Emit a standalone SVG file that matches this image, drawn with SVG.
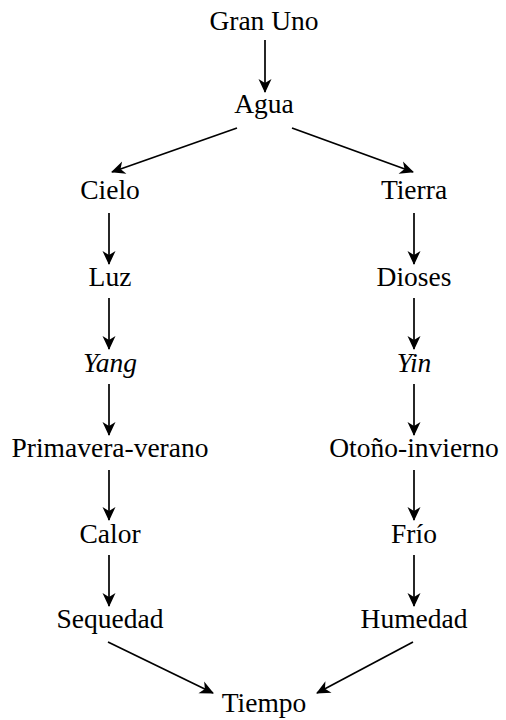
<svg xmlns="http://www.w3.org/2000/svg" width="506" height="720" viewBox="0 0 506 720">
<style>
text{font-family:"Liberation Serif","DejaVu Serif",serif;font-size:27.5px;fill:#000;text-anchor:middle}
.it{font-style:italic}
.e{stroke:#000;stroke-width:1.7;fill:none;marker-end:url(#ah)}
</style>
<defs>
<marker id="ah" markerUnits="userSpaceOnUse" markerWidth="18" markerHeight="18" viewBox="-15 -9 17 18" refX="0" refY="0" orient="auto">
<path d="M1,0 L-13,-6.5 L-9,0 L-13,6.5 Z" fill="#000"/>
</marker>
</defs>
<rect width="506" height="720" fill="#fff"/>
<g id="connectors">
<line class="e" x1="265" y1="40" x2="265" y2="92"/>
<line class="e" x1="237" y1="128" x2="112" y2="172"/>
<line class="e" x1="292" y1="128" x2="413" y2="172"/>
<line class="e" x1="109" y1="213" x2="109" y2="264"/>
<line class="e" x1="109" y1="298" x2="109" y2="349"/>
<line class="e" x1="109" y1="384" x2="109" y2="435"/>
<line class="e" x1="109" y1="470" x2="109" y2="520"/>
<line class="e" x1="109" y1="555" x2="109" y2="606"/>
<line class="e" x1="414" y1="213" x2="414" y2="264"/>
<line class="e" x1="414" y1="298" x2="414" y2="349"/>
<line class="e" x1="414" y1="384" x2="414" y2="435"/>
<line class="e" x1="414" y1="470" x2="414" y2="520"/>
<line class="e" x1="414" y1="555" x2="414" y2="606"/>
<line class="e" x1="108" y1="642" x2="213" y2="693"/>
<line class="e" x1="413" y1="642" x2="317" y2="693"/>
</g>
<g id="gran-uno"><text x="264" y="30">Gran Uno</text></g>
<g id="agua"><text x="264" y="113">Agua</text></g>
<g id="cielo"><text x="110" y="199">Cielo</text></g>
<g id="tierra"><text x="414" y="199">Tierra</text></g>
<g id="luz"><text x="110" y="286">Luz</text></g>
<g id="dioses"><text x="414" y="286">Dioses</text></g>
<g id="yang"><text class="it" x="110" y="372">Yang</text></g>
<g id="yin"><text class="it" x="414" y="372">Yin</text></g>
<g id="primavera-verano"><text x="110" y="457">Primavera-verano</text></g>
<g id="otono-invierno"><text x="414" y="457">Otoño-invierno</text></g>
<g id="calor"><text x="110" y="543">Calor</text></g>
<g id="frio"><text x="414" y="543">Frío</text></g>
<g id="sequedad"><text x="110" y="628">Sequedad</text></g>
<g id="humedad"><text x="414" y="628">Humedad</text></g>
<g id="tiempo"><text x="264" y="712">Tiempo</text></g>
</svg>
